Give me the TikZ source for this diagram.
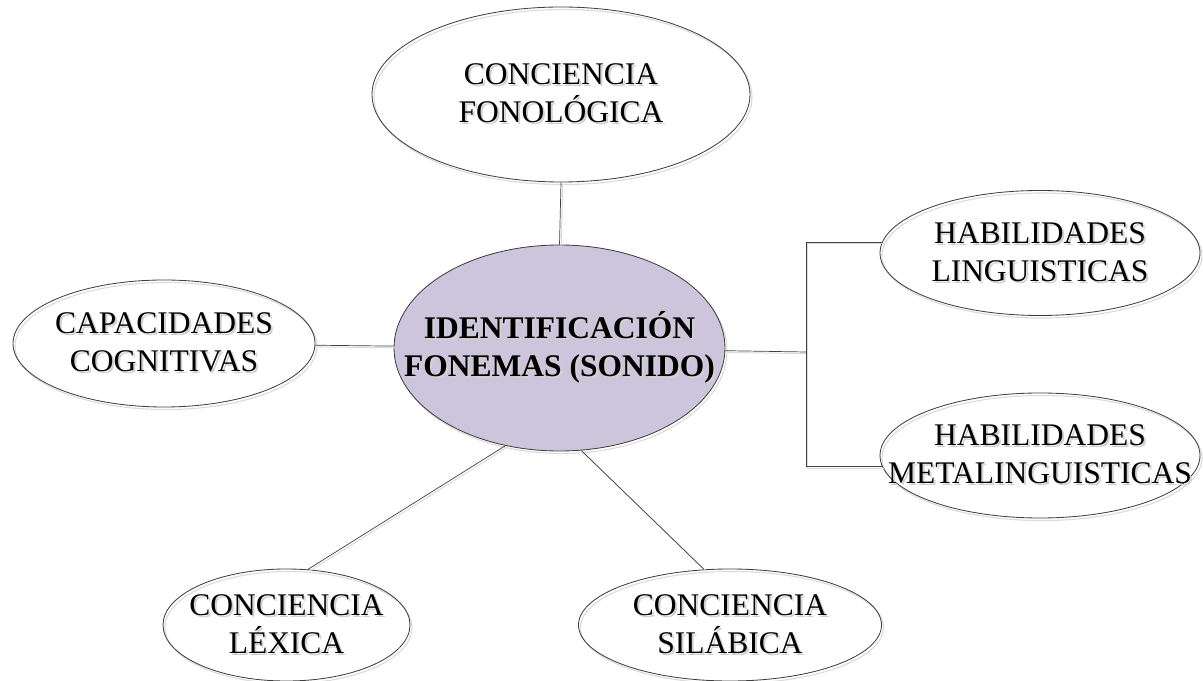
\documentclass[tikz,border=0pt]{standalone}
\usepackage{fontspec}
\setmainfont{Liberation Serif}
\usetikzlibrary{shapes.geometric}

\definecolor{lila}{RGB}{204,197,219}
% grey copy of a line of text, a little below and to the right
\newcommand\sombra[1]{\makebox[0pt][l]{\kern1.4pt\raisebox{-1.4pt}{\textcolor{black!18}{#1}}}#1}

\tikzset{
  tam/.style 2 args={minimum width=#1*0.025cm, minimum height=#2*0.025cm},
  burbuja/.style={ellipse, draw=black!75, line width=0.6pt, inner sep=-3cm, align=center,
    font=\fontsize{22.4}{27}\selectfont,
    preaction={draw=black!14, line width=0.8pt, transform canvas={shift={(1.4pt,-1.8pt)}}}},
  central/.style={fill=lila, font=\fontsize{22.4}{27}\selectfont\bfseries},
  linea/.style={draw=black!75, line width=0.5pt,
    preaction={draw=black!14, line width=0.7pt, transform canvas={shift={(1.2pt,-1.2pt)}}}}
}

\begin{document}
\begin{tikzpicture}[x=0.025cm, y=-0.025cm]
  \useasboundingbox (0,0) rectangle (1203,681);

% centre
  \node[burbuja, central, tam={331}{206}] (centro) at (559.5,348)
    {\sombra{IDENTIFICACIÓN}\\\sombra{FONEMAS (SONIDO)}};

% around it
  \node[burbuja, tam={378}{175}] (fono) at (561,94.5) {\sombra{CONCIENCIA}\\\sombra{FONOLÓGICA}};
  \node[burbuja, tam={302}{127}] (capac) at (164,343.5) {\sombra{CAPACIDADES}\\\sombra{COGNITIVAS}};
  \node[burbuja, tam={320}{125}] (hling) at (1040,253) {\sombra{HABILIDADES}\\\sombra{LINGUISTICAS}};
  \node[burbuja, tam={320}{125}] (hmeta) at (1040,455.5) {\sombra{HABILIDADES}\\\sombra{METALINGUISTICAS}};
  \node[burbuja, tam={247}{112}] (lexica) at (286.5,625) {\sombra{CONCIENCIA}\\\sombra{LÉXICA}};
  \node[burbuja, tam={303}{112}] (silab) at (730,625) {\sombra{CONCIENCIA}\\\sombra{SILÁBICA}};

% connectors
  \coordinate (rama) at (806,352);
  \draw[linea] (fono.south) -- (centro.north);
  \draw[linea] (capac) -- (centro);
  \draw[linea] (centro) -- (rama);
  \draw[linea] (hling.176) -| (rama) |- (hmeta.184);
  \draw[linea] (centro.241) -- (lexica.69);
  \draw[linea] (centro.282) -- (silab.115);
\end{tikzpicture}
\end{document}
